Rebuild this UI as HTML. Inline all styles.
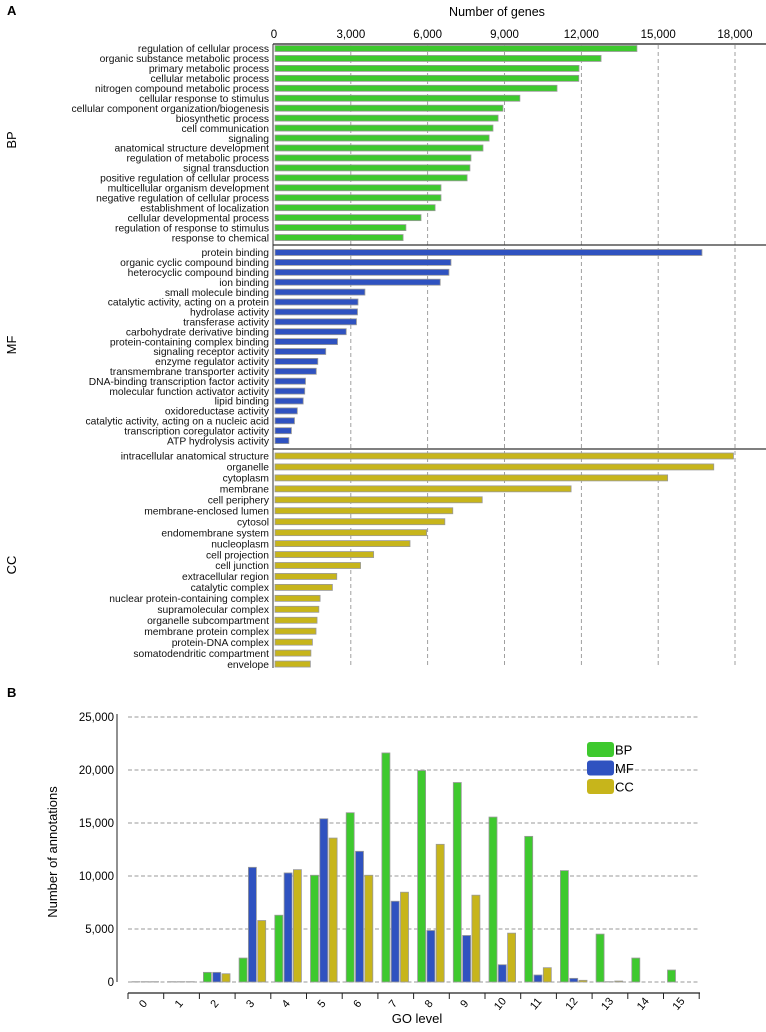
<!DOCTYPE html>
<html><head><meta charset="utf-8"><style>
html,body{margin:0;padding:0;background:#fff;}
svg{display:block;font-family:"Liberation Sans",sans-serif;}
</style></head><body>
<svg id="chart" width="766" height="1032" viewBox="0 0 766 1032" xmlns="http://www.w3.org/2000/svg">
<text x="7" y="15" font-size="13" font-weight="bold">A</text>
<text x="497" y="16" font-size="12.5" text-anchor="middle">Number of genes</text>
<text x="7" y="697" font-size="13" font-weight="bold">B</text>
<g id="a"></g><g id="b"></g>
</svg>
<script>
const bpCats=["regulation of cellular process","organic substance metabolic process","primary metabolic process","cellular metabolic process","nitrogen compound metabolic process","cellular response to stimulus","cellular component organization/biogenesis","biosynthetic process","cell communication","signaling","anatomical structure development","regulation of metabolic process","signal transduction","positive regulation of cellular process","multicellular organism development","negative regulation of cellular process","establishment of localization","cellular developmental process","regulation of response to stimulus","response to chemical"];
const bpVals=[14170,12770,11910,11900,11050,9600,8940,8750,8550,8400,8160,7690,7650,7540,6520,6520,6290,5740,5150,5040];
const mfCats=["protein binding","organic cyclic compound binding","heterocyclic compound binding","ion binding","small molecule binding","catalytic activity, acting on a protein","hydrolase activity","transferase activity","carbohydrate derivative binding","protein-containing complex binding","signaling receptor activity","enzyme regulator activity","transmembrane transporter activity","DNA-binding transcription factor activity","molecular function activator activity","lipid binding","oxidoreductase activity","catalytic activity, acting on a nucleic acid","transcription coregulator activity","ATP hydrolysis activity"];
const mfVals=[16710,6910,6830,6490,3550,3280,3260,3220,2820,2480,2020,1710,1650,1230,1200,1140,910,800,680,580];
const ccCats=["intracellular anatomical structure","organelle","cytoplasm","membrane","cell periphery","membrane-enclosed lumen","cytosol","endomembrane system","nucleoplasm","cell projection","cell junction","extracellular region","catalytic complex","nuclear protein-containing complex","supramolecular complex","organelle subcompartment","membrane protein complex","protein-DNA complex","somatodendritic compartment","envelope"];
const ccVals=[17940,17170,15370,11600,8130,6980,6670,5960,5310,3890,3380,2450,2280,1800,1750,1680,1640,1500,1440,1420];
const geneTicks=[0,3000,6000,9000,12000,15000,18000];
const geneTickLabels=["0","3,000","6,000","9,000","12,000","15,000","18,000"];
const levels=["0","1","2","3","4","5","6","7","8","9","10","11","12","13","14","15"];
const bpLevel=[30,30,910,2260,6300,10070,15970,21610,19950,18820,15560,13740,10510,4520,2260,1130];
const mfLevel=[30,30,910,10820,10290,15400,12330,7620,4860,4390,1630,660,345,30,0,0];
const ccLevel=[30,30,780,5800,10600,13580,10070,8470,12990,8190,4610,1350,160,90,0,0];
const annTicks=[0,5000,10000,15000,20000,25000];
const annTickLabels=["0","5,000","10,000","15,000","20,000","25,000"];

const NS="http://www.w3.org/2000/svg";
function mk(p,t,a){const e=document.createElementNS(NS,t);for(const k in a)e.setAttribute(k,a[k]);p.appendChild(e);return e;}
const A=document.getElementById('a'),B=document.getElementById('b');
const gx=v=>274+v*461/18000;
geneTicks.forEach((t,i)=>{
  const lb=mk(A,'text',{x:gx(t),y:38,'font-size':11.5,'text-anchor':'middle'});lb.textContent=geneTickLabels[i];
  
  
  if(t>0){const l=mk(A,'line',{x1:gx(t),x2:gx(t),y1:45,y2:668,stroke:'#888','stroke-width':0.8,'stroke-dasharray':'4,3'});
  
  }
});
const ax=mk(A,'line',{x1:273,x2:766,y1:44,y2:44,stroke:'#444','stroke-width':1.6});


const ay=mk(A,'line',{x1:273,x2:273,y1:44,y2:668,stroke:'#333','stroke-width':1});


[245,449].forEach(y=>{const s=mk(A,'line',{x1:273,x2:766,y1:y,y2:y,stroke:'#333','stroke-width':1.3});
  
  });
function section(cats,vals,y0,step,color,name,labY){
  const st=mk(A,'text',{x:0,y:0,'font-size':13,'text-anchor':'middle',transform:`translate(16,${labY}) rotate(-90)`});st.textContent=name;
  
  
  cats.forEach((c,i)=>{const y=y0+i*step;
    const t=mk(A,'text',{x:269,y:y+3.7,'font-size':10.3,'text-anchor':'end',fill:'#111'});t.textContent=c;
    
    
    const r=mk(A,'rect',{x:275,y:y-3,width:Math.max(0,gx(vals[i])-275),height:6,fill:color,stroke:'#9a9a9a','stroke-width':0.8});
    
    
  });
}
section(bpCats,bpVals,48.5,9.95,'#3ec92e','BP',140);
section(mfCats,mfVals,252.5,9.9,'#2f52c0','MF',345);
section(ccCats,ccVals,456,10.95,'#c7b51b','CC',565);

const y0=982,yTop=717;const yb=v=>y0-(v/25000)*(y0-yTop);
const gStart=128,gW=35.7;
annTicks.forEach((t,i)=>{
  if(t>0){const l=mk(B,'line',{x1:128,x2:699,y1:yb(t),y2:yb(t),stroke:'#999','stroke-width':0.9,'stroke-dasharray':'4,2.5'});
  
  }
  const lb=mk(B,'text',{x:114,y:yb(t)+4,'font-size':11.5,'text-anchor':'end'});lb.textContent=annTickLabels[i];
  
  
});
const bl=mk(B,'line',{x1:128,x2:699,y1:y0,y2:y0,stroke:'#999','stroke-width':0.9,'stroke-dasharray':'4,2.5'});


const yax=mk(B,'line',{x1:117,x2:117,y1:714,y2:982,stroke:'#222','stroke-width':1});


const xax=mk(B,'line',{x1:128,x2:700,y1:993,y2:993,stroke:'#222','stroke-width':1.3});


for(let i=0;i<=levels.length;i++){const x=gStart+i*gW;
  const tk=mk(B,'line',{x1:x,x2:x,y1:993,y2:999,stroke:'#222','stroke-width':1});
  
  }
const cols=['#3ec92e','#2f52c0','#c7b51b'],ser=[bpLevel,mfLevel,ccLevel],sn=['bp','mf','cc'];
levels.forEach((lv,i)=>{const gx0=gStart+i*gW;
  const lb=mk(B,'text',{x:0,y:0,'font-size':11,'text-anchor':'middle',transform:`translate(${gx0+gW/2},${1006}) rotate(-50)`});lb.textContent=lv;
  
  
  ser.forEach((s,k)=>{const v=s[i];const x=gx0+4+k*9.3;
    const r=mk(B,'rect',{x:x,y:yb(v),width:8,height:Math.max(0,y0-yb(v)),fill:cols[k],stroke:'#9a9a9a','stroke-width':0.8});
    
    
  });
});
const yt=mk(B,'text',{x:0,y:0,'font-size':13,'text-anchor':'middle',transform:'translate(57,852) rotate(-90)'});yt.textContent='Number of annotations';


const xt=mk(B,'text',{x:417,y:1023,'font-size':13,'text-anchor':'middle'});xt.textContent='GO level';


['BP','MF','CC'].forEach((n,k)=>{const y=742+k*18.5;
  const s=mk(B,'rect',{x:587,y:y,width:27,height:15,rx:3,fill:cols[k]});
  
  
  const t=mk(B,'text',{x:615,y:y+12.5,'font-size':13});t.textContent=n;
  
  
});
</script>
</body></html>
